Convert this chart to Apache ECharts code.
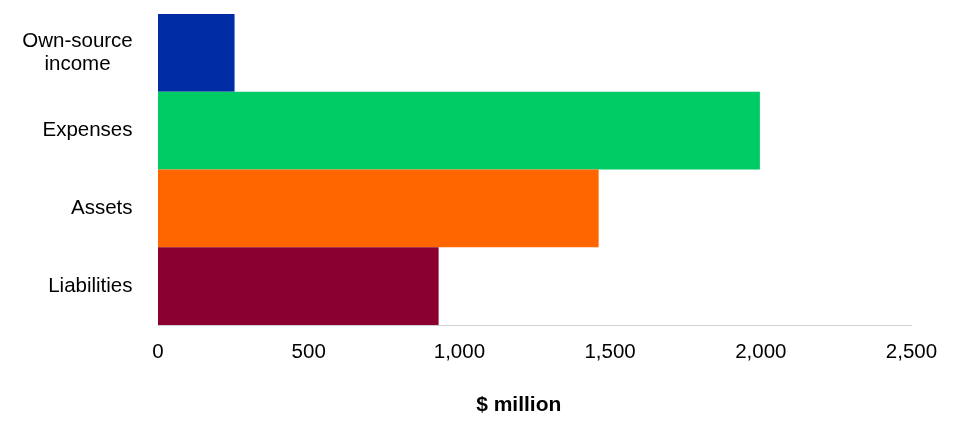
<!DOCTYPE html>
<html><head><meta charset="utf-8">
<script src="https://cdn.jsdelivr.net/npm/echarts@6/dist/echarts.min.js"></script>
<style>html,body{margin:0;padding:0;background:#fff}#c{width:961px;height:425px}</style>
</head><body><div id="c"></div>
<script>
const categories = ['Own-source\nincome', 'Expenses', 'Assets', 'Liabilities'];
const values = [254, 1997, 1462, 931];
const colors = ['#002DA6', '#00CC66', '#FF6600', '#8A0030'];
const xTicks = [0, 500, 1000, 1500, 2000, 2500];

const chart = echarts.init(document.getElementById('c'));
chart.setOption({
  animation: false,
  grid: {left: 158, right: 49.5, top: 14, bottom: 100, containLabel: false},
  xAxis: {
    type: 'value', min: xTicks[0], max: xTicks[xTicks.length - 1], interval: 500,
    axisLine: {show: true, lineStyle: {color: '#d0d0d0', width: 1}},
    axisTick: {show: false},
    splitLine: {show: false},
    axisLabel: {
      margin: 17, color: '#000', fontFamily: 'Liberation Sans', fontSize: 20.5,
      formatter: v => v.toLocaleString('en-US')
    },
    name: '$ million', nameLocation: 'middle', nameGap: 70,
    nameTextStyle: {color: '#000', fontFamily: 'Liberation Sans', fontSize: 21, fontWeight: 'bold', padding: [0, 32, 0, 0]}
  },
  yAxis: {
    type: 'category', data: categories, inverse: true,
    axisLine: {show: false}, axisTick: {show: false}, splitLine: {show: false},
    axisLabel: {
      margin: 25.5, color: '#000', fontFamily: 'Liberation Sans', fontSize: 20.5, lineHeight: 23.5,
      formatter: v => v.indexOf('\n') >= 0 ? v.split('\n').map(s => '{c|' + s + '}').join('\n') : v,
      rich: {c: {width: 110, align: 'center', fontFamily: 'Liberation Sans', fontSize: 20.5, color: '#000', lineHeight: 23.5}}
    }
  },
  series: [{
    type: 'bar', barCategoryGap: 0,
    data: values.map((v, i) => ({value: v, itemStyle: {color: colors[i]}}))
  }]
});
</script></body></html>
